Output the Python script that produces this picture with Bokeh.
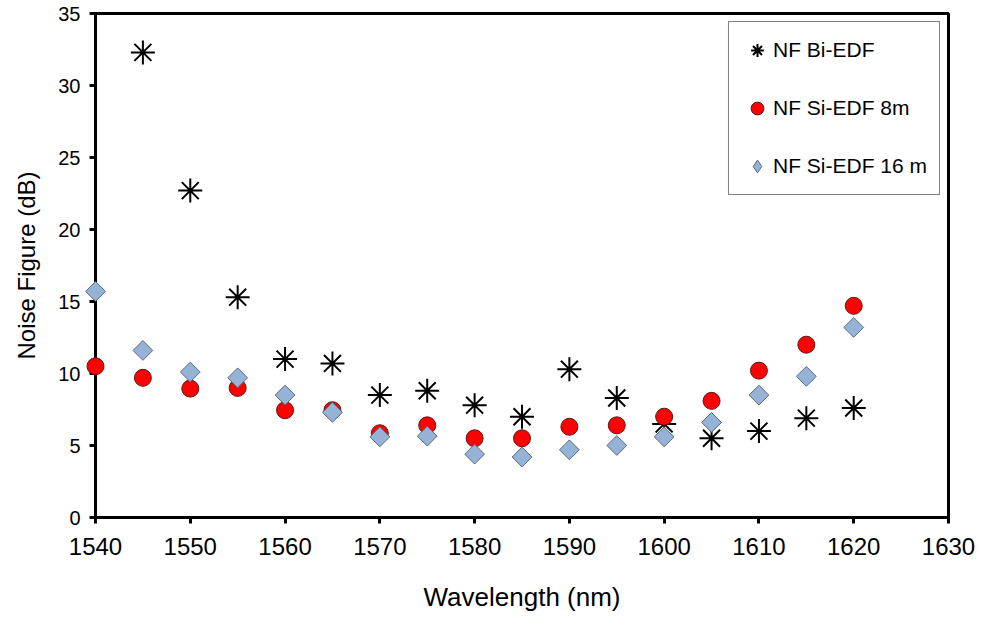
import math
from bokeh.plotting import figure
from bokeh.models import Range1d, FixedTicker, Legend, LegendItem
from bokeh.embed import file_html
from bokeh.resources import INLINE

wavelength = [1540, 1545, 1550, 1555, 1560, 1565, 1570, 1575, 1580, 1585,
              1590, 1595, 1600, 1605, 1610, 1615, 1620]
bi_x = wavelength[1:]
nf_bi_edf = [32.3, 22.7, 15.3, 11.0, 10.7, 8.5, 8.8, 7.8, 7.0,
             10.3, 8.3, 6.5, 5.5, 6.0, 6.9, 7.6]
nf_si_edf_8m = [10.5, 9.7, 8.95, 9.0, 7.45, 7.45, 5.85, 6.4, 5.5, 5.5,
                6.3, 6.4, 7.0, 8.1, 10.2, 12.0, 14.7]
nf_si_edf_16m = [15.7, 11.6, 10.1, 9.7, 8.5, 7.3, 5.6, 5.65, 4.4, 4.2,
                 4.7, 5.0, 5.6, 6.6, 8.5, 9.8, 13.2]
x_ticks = [1540, 1550, 1560, 1570, 1580, 1590, 1600, 1610, 1620, 1630]
y_ticks = [0, 5, 10, 15, 20, 25, 30, 35]

FONT = "Liberation Sans"
BLUE = "#95B3D7"
BLUE_EDGE = "#5f6b7a"

p = figure(width=981, height=632, output_backend="svg", toolbar_location=None,
           x_range=Range1d(1540, 1630), y_range=Range1d(0, 35),
           min_border_left=95, min_border_right=33, min_border_top=13,
           min_border_bottom=115)
p.background_fill_color = "white"
p.border_fill_color = "white"
p.outline_line_color = "black"
p.outline_line_width = 3
p.xgrid.visible = False
p.ygrid.visible = False

for ax in (p.xaxis[0], p.yaxis[0]):
    ax.axis_line_width = 3
    ax.axis_line_color = "black"
    ax.major_tick_line_width = 3
    ax.major_tick_line_color = "black"
    ax.major_tick_out = 6
    ax.major_tick_in = 0
    ax.minor_tick_line_color = None
    ax.major_label_text_font = FONT
    ax.major_label_text_color = "black"
    ax.axis_label_text_font = FONT
    ax.axis_label_text_font_style = "normal"
    ax.axis_label_text_color = "black"

p.xaxis.ticker = FixedTicker(ticks=x_ticks)
p.yaxis.ticker = FixedTicker(ticks=y_ticks)
p.xaxis.major_label_text_font_size = "24px"
p.yaxis.major_label_text_font_size = "20px"
p.xaxis.major_label_standoff = 14
p.yaxis.major_label_standoff = 9
p.xaxis.axis_label = "Wavelength (nm)"
p.yaxis.axis_label = "Noise Figure (dB)"
p.xaxis.axis_label_text_font_size = "26px"
p.yaxis.axis_label_text_font_size = "24px"
p.xaxis.axis_label_standoff = 24
p.yaxis.axis_label_standoff = 15

r_bi = p.scatter(bi_x, nf_bi_edf, marker="asterisk", size=24,
                 line_color="black", line_width=2, level="overlay")
r_8 = p.scatter(wavelength, nf_si_edf_8m, marker="circle", size=17,
                fill_color="#FF0000", line_color="#5a1a1a", line_width=1,
                level="overlay")
# diamond-shaped key glyph (hidden beneath the wider rotated squares)
r_16_key = p.scatter(wavelength, nf_si_edf_16m, marker="diamond", size=18,
                     fill_color=BLUE, line_color=BLUE_EDGE, line_width=1,
                     level="overlay")
r_16 = p.scatter(wavelength, nf_si_edf_16m, marker="square", size=14,
                 angle=math.pi / 4,
                 fill_color=BLUE, line_color=BLUE_EDGE, line_width=1,
                 level="overlay")

legend = Legend(items=[
    LegendItem(label="NF Bi-EDF", renderers=[r_bi]),
    LegendItem(label="NF Si-EDF 8m", renderers=[r_8]),
    LegendItem(label="NF Si-EDF 16 m", renderers=[r_16_key]),
], location="top_right")
legend.label_text_font = FONT
legend.label_text_font_size = "21px"
legend.label_text_color = "black"
legend.glyph_width = 32
legend.glyph_height = 32
legend.label_standoff = 0
legend.spacing = 26
legend.padding = 12
legend.margin = 8
legend.border_line_color = "black"
legend.border_line_width = 1
legend.background_fill_color = "white"
legend.background_fill_alpha = 1
p.add_layout(legend)

open("out.html", "w").write(file_html(p, INLINE))
